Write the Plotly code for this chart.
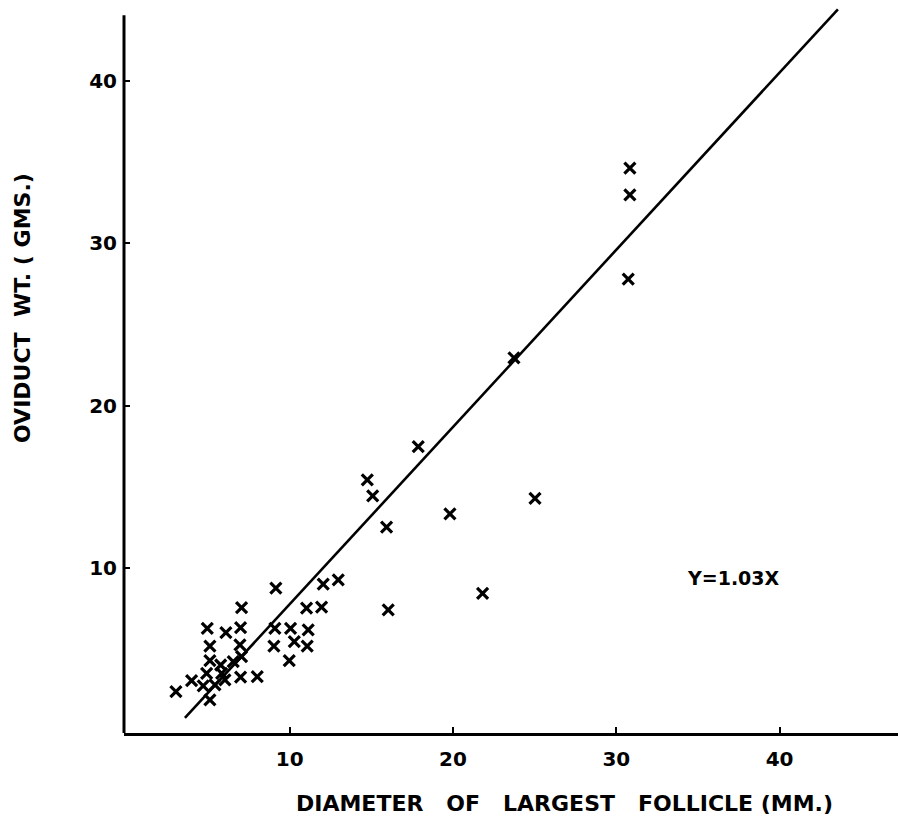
import plotly.graph_objects as go

# Diameter of largest follicle (mm) and oviduct weight (g)
follicle_mm = [30.83, 30.83, 30.73, 23.73, 17.87, 14.75, 15.08, 15.93, 19.81, 25.02,
               21.81, 16.03, 9.15, 12.05, 12.97, 11.03, 11.95, 9.09, 10.05, 11.13,
               9.03, 10.28, 11.07, 9.97, 7.05, 4.95, 6.09, 6.99, 5.11, 6.95,
               5.11, 5.77, 6.54, 7.05, 4.91, 5.83, 3.99, 6.03, 6.99, 8.01,
               3.03, 4.70, 5.42, 5.11]
oviduct_g = [34.63, 32.98, 27.79, 22.95, 17.47, 15.42, 14.44, 12.51, 13.33, 14.29,
             8.44, 7.41, 8.75, 9.00, 9.26, 7.52, 7.58, 6.28, 6.28, 6.18,
             5.19, 5.46, 5.19, 4.29, 7.55, 6.28, 6.01, 6.32, 5.19, 5.26,
             4.29, 4.02, 4.23, 4.53, 3.51, 3.51, 3.06, 3.10, 3.27, 3.30,
             2.38, 2.73, 2.79, 1.87]

# Fitted line as drawn on the chart
fit_x = [3.58, 43.57]
fit_y = [0.76, 44.42]

tick_vals = [10, 20, 30, 40]
tick_text = ["10", "20", "30", "40"]

FONT = "DejaVu Sans"

fig = go.Figure()
fig.add_trace(go.Scatter(x=fit_x, y=fit_y, mode="lines",
                         line=dict(color="black", width=2.6), hoverinfo="skip"))
fig.add_trace(go.Scatter(x=follicle_mm, y=oviduct_g, mode="markers",
                         marker=dict(symbol="x-thin", size=11, color="black",
                                     line=dict(color="black", width=3.2))))

fig.update_layout(
    width=898, height=817,
    margin=dict(l=124, r=0, t=8, b=84),
    paper_bgcolor="white", plot_bgcolor="white",
    showlegend=False,
    font=dict(family=FONT, color="black"),
    xaxis=dict(range=[-0.15, 47.25], tickvals=tick_vals, ticktext=tick_text,
               ticks="inside", ticklen=6, tickwidth=2, tickcolor="black",
               showgrid=False, zeroline=False,
               showline=True, linecolor="black", linewidth=3,
               tickfont=dict(family=FONT, size=20, color="black", weight="bold"),
               ticklabelstandoff=6),
    yaxis=dict(range=[-0.17, 44.5], tickvals=tick_vals, ticktext=tick_text,
               ticks="inside", ticklen=6, tickwidth=2, tickcolor="black",
               showgrid=False, zeroline=False, showline=False,
               tickfont=dict(family=FONT, size=20, color="black", weight="bold"),
               ticklabelstandoff=6),
    shapes=[dict(type="line", xref="paper", yref="paper", x0=0, x1=0,
                 y0=0, y1=0.990, line=dict(color="black", width=3))],
    annotations=[
        dict(text="Y=1.03X", xref="x", yref="y", x=37.2, y=9.38, showarrow=False,
             font=dict(family=FONT, size=19, color="black", weight="bold")),
        dict(text="DIAMETER   OF   LARGEST   FOLLICLE (MM.)", xref="paper", yref="paper",
             x=(564 - 124) / 774, y=-(803 - 733) / 725, showarrow=False,
             xanchor="center", yanchor="middle",
             font=dict(family=FONT, size=22, color="black", weight="bold")),
        dict(text="OVIDUCT  WT. ( GMS.)", xref="paper", yref="paper",
             x=-(124 - 22) / 774, y=(733 - 308) / 725, showarrow=False,
             textangle=-90, xanchor="center", yanchor="middle",
             font=dict(family=FONT, size=22, color="black", weight="bold")),
    ],
)

fig.write_html("out.html", config={"displayModeBar": False},
               post_script="document.body.style.margin='0';document.body.style.overflow='hidden';")
